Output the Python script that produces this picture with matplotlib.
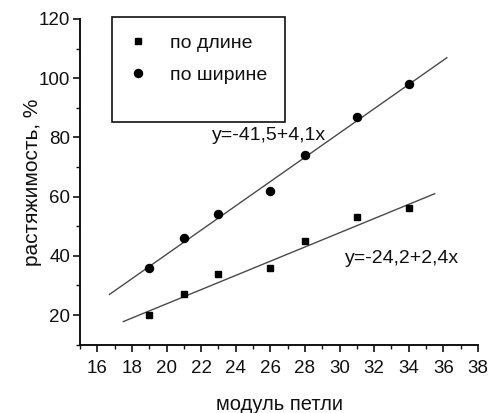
import matplotlib
matplotlib.use("Agg")
import matplotlib.pyplot as plt
import numpy as np
from matplotlib.patches import Rectangle
from matplotlib.ticker import MultipleLocator

plt.rcParams["font.family"] = ["Liberation Sans", "DejaVu Sans"]

modul = [19, 21, 23, 26, 28, 31, 34]
po_dline = [20, 27, 34, 36, 45, 53, 56]
po_shirine = [36, 46, 54, 62, 74, 87, 98]

# fitted lines: y = a + b*x, drawn over the range shown
fit_shirine = (-41.5, 4.1, [16.7, 36.2])
fit_dline = (-24.2, 2.4, [17.5, 35.5])

INK = "#111111"

fig = plt.figure(figsize=(4.91, 4.13), dpi=100)
ax = fig.add_axes([0.163, 0.1654, 0.8105, 0.7886])

for a, b, xs in (fit_shirine, fit_dline):
    xs = np.array(xs)
    ax.plot(xs, a + b * xs, color="#4a4a4a", linewidth=1.0, zorder=2)

sq, = ax.plot(modul, po_dline, "s", color="black", markersize=4.8, linestyle="none", zorder=3)
ci, = ax.plot(modul, po_shirine, "o", color="black", markersize=5.8, linestyle="none", zorder=3)

ax.set_xlim(15, 38)
ax.set_ylim(10, 120)
ax.xaxis.set_minor_locator(MultipleLocator(1))
ax.yaxis.set_minor_locator(MultipleLocator(10))
ax.set_xticks(np.arange(16, 39, 2))
ax.set_yticks(np.arange(20, 121, 20))

for s in ("top", "right"):
    ax.spines[s].set_visible(False)
for s in ("left", "bottom"):
    ax.spines[s].set_linewidth(1.4)
    ax.spines[s].set_color(INK)

ax.tick_params(which="major", direction="out", length=5, width=1.2, labelsize=13.5, colors=INK)
ax.tick_params(which="minor", direction="out", length=3, width=1.0, colors=INK)
ax.tick_params(axis="x", which="major", pad=6)
ax.tick_params(axis="y", which="major", pad=2)

ax.set_xlabel("модуль петли", fontsize=14.5, labelpad=13, color=INK)
ax.set_ylabel("растяжимость, %", fontsize=15, labelpad=-2, color=INK)

ax.text(22.6, 80.7, "y=-41,5+4,1x", fontsize=14, va="center", ha="left", color=INK)
ax.text(30.3, 39.0, "y=-24,2+2,4x", fontsize=14, va="center", ha="left", color=INK)

ax.add_patch(Rectangle((0.080, 0.685), 0.435, 0.322, transform=ax.transAxes,
                       fill=False, edgecolor=INK, linewidth=1.2, clip_on=False))
leg = ax.legend([sq, ci], ["по длине", "по ширине"], loc="upper left",
                bbox_to_anchor=(0.121, 0.953), frameon=False, fontsize=14,
                borderpad=0, borderaxespad=0, handlelength=1.0, handletextpad=1.15,
                labelspacing=0.72)
for t in leg.get_texts():
    t.set_color(INK)

fig.savefig("out.png", dpi=100, facecolor="white")
